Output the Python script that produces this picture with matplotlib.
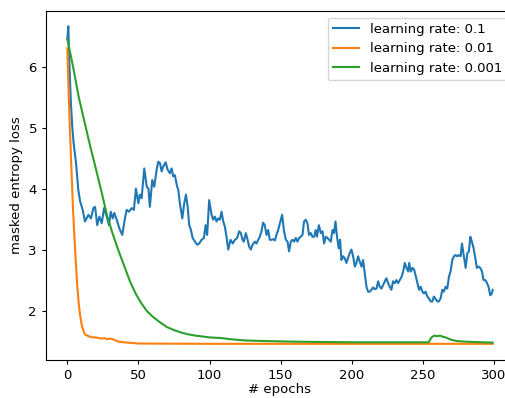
import matplotlib
matplotlib.use("Agg")
import matplotlib.pyplot as plt

# learning rate 0.1 (noisy)
blue_epochs = [0, 0.7, 1.5, 2.5, 3.5, 4.4, 6.1, 7.7, 9, 10.8, 12.4, 14.8, 16.6, 18.3, 19.5, 21, 22.5, 24.2,
               25.8, 27.7, 29.3, 30.5, 31.9, 33, 34.7, 36.5, 38.6, 40.5, 41.7, 43.3, 45.2, 46.8, 48.2, 49.9,
               51, 52.2, 54.1, 55.8, 57, 58, 59.7, 61.1, 62.8, 63.9, 65.1, 66.3, 67.4, 69.1, 70.5, 72.1,
               73.3, 74.4, 75.6, 77.2, 78, 79.1, 80.8, 82.2, 83.4, 84.6, 85.7, 86.9, 88.1, 89.7, 91.3, 92.7,
               94.4, 96, 97.2, 98.3, 99.7, 101.4, 102.5, 103.7, 104.9, 106, 107.2, 108.4, 109.6, 110.7,
               111.9, 113.1, 114.7, 116.3, 117.8, 119.4, 120.8, 122, 123.2, 124.1, 125.5, 126.7, 127.8, 129,
               130.2, 131.8, 133, 134.2, 135.3, 136.5, 137.6, 138.8, 140, 141.2, 142.3, 143.5, 144.7, 145.9,
               147, 148.2, 149.4, 151, 152.2, 153.6, 154.8, 155.9, 157.1, 158.3, 159.4, 160.6, 161.8, 162.9,
               164.1, 165.3, 166.4, 167.6, 168.8, 169.9, 171.1, 172.3, 173.5, 174.6, 175.5, 176.8, 178.2,
               179.4, 180.5, 181.7, 182.9, 184, 185.2, 186.4, 187.5, 188.5, 189.6, 190.8, 191.7, 192.7, 193.8,
               195, 196.2, 197.3, 198.5, 199.7, 200.9, 202.1, 203.2, 204.4, 205.6, 206.8, 207.9, 209.1, 210.3,
               211.4, 212.6, 213.8, 214.9, 216.1, 217.3, 218.5, 219.6, 220.8, 222, 223.2, 224.3, 225.5, 226.7,
               227.8, 229, 230.2, 231.3, 232.5, 233.7, 234.9, 236, 237.2, 238.4, 239.6, 240.3, 241.5, 242.6,
               243.8, 245, 246.1, 247.3, 248.4, 249.6, 250.7, 251.9, 253.1, 254.2, 255.4, 256.6, 257.7, 258.9,
               260.1, 261.2, 262.4, 263.6, 264.7, 265.9, 267.1, 268.3, 269.4, 270.6, 271.8, 272.9, 274.1,
               275.3, 276.5, 277.4, 278.6, 280, 281.2, 282.3, 283.3, 284.4, 285.6, 286.8, 287.9, 289.1, 290.3,
               291.5, 292.6, 293.8, 294.9, 296.1, 297.3, 298.4, 299]
blue_loss = [6.45, 6.66, 6.0, 5.4, 5.0, 4.75, 4.42, 3.98, 3.79, 3.65, 3.46, 3.57, 3.51, 3.68, 3.70, 3.40, 3.54, 3.43,
             3.68, 3.54, 3.40, 3.62, 3.51, 3.60, 3.49, 3.35, 3.24, 3.51, 3.65, 3.62, 3.68, 3.65, 4.0, 3.76,
             3.90, 3.84, 4.33, 4.03, 4.0, 3.70, 4.14, 4.03, 4.31, 4.44, 4.42, 4.28, 4.36, 4.43, 4.31, 4.25,
             4.33, 4.20, 4.22, 4.03, 3.98, 3.76, 3.51, 3.76, 3.90, 3.70, 3.40, 3.32, 3.19, 3.13, 3.08, 3.10,
             3.16, 3.19, 3.40, 3.24, 3.81, 3.57, 3.49, 3.54, 3.46, 3.51, 3.49, 3.62, 3.46, 3.38,
             3.21, 3.0, 3.16, 3.10, 3.16, 3.19, 3.30, 3.27, 3.16, 3.13, 3.27, 3.16, 3.05, 3.0,
             3.08, 3.13, 3.10, 3.16, 3.21, 3.30, 3.44, 3.40, 3.24, 3.32, 3.16, 3.16, 3.17, 3.15,
             3.24, 3.32, 3.43, 3.57, 3.32, 3.16, 3.13, 2.97, 3.13, 3.16, 3.13, 3.19, 3.13, 3.19,
             3.21, 3.24, 3.46, 3.49, 3.43, 3.24, 3.27, 3.21, 3.21, 3.32, 3.21, 3.40, 3.27,
             3.30, 3.10, 3.21, 3.19, 3.16, 3.13, 3.32, 3.27, 3.46, 3.21, 3.02, 3.16, 2.83, 2.89,
             2.86, 2.78, 2.86, 2.94, 3.0, 2.89, 2.72, 2.78, 2.89, 2.80, 2.72, 2.83, 2.61, 2.39,
             2.31, 2.31, 2.34, 2.38, 2.35, 2.36, 2.48, 2.39, 2.36, 2.42, 2.48, 2.53, 2.45, 2.39,
             2.34, 2.48, 2.45, 2.50, 2.45, 2.50, 2.55, 2.63, 2.78, 2.70, 2.64, 2.78, 2.64, 2.70,
             2.67, 2.56, 2.45, 2.34, 2.39, 2.31, 2.28, 2.31, 2.23, 2.20, 2.15, 2.15, 2.23, 2.19,
             2.15, 2.15, 2.20, 2.34, 2.31, 2.39, 2.36, 2.56, 2.64, 2.83, 2.89, 2.91, 2.89,
             2.91, 2.89, 3.10, 2.91, 2.70, 2.94, 2.97, 3.21, 3.13, 3.02, 2.86, 2.70, 2.72, 2.70,
             2.64, 2.50, 2.50, 2.46, 2.39, 2.25, 2.28, 2.34]

# learning rate 0.01
orange_epochs = [0, 1, 2, 3, 4, 5, 6, 7, 8, 9, 10, 11, 12, 13, 14, 16, 18, 20, 22, 24, 26, 28, 30, 32, 34,
                 36, 40, 45, 50, 100, 150, 200, 250, 299]
orange_loss = [6.30, 5.5, 4.85, 4.25, 3.65, 3.2, 2.78, 2.4, 2.12, 1.92, 1.78, 1.69, 1.63, 1.60, 1.59, 1.57,
               1.56, 1.56, 1.55, 1.54, 1.55, 1.53, 1.54, 1.53, 1.51, 1.49, 1.48, 1.47, 1.46, 1.455, 1.455,
               1.455, 1.455, 1.455]

# learning rate 0.001
green_epochs = [0, 4, 8, 12, 16, 20, 24, 28, 32, 36, 40, 44, 48, 52, 56, 60, 65, 70, 75, 80, 85, 90, 100,
                108, 115, 125, 140, 160, 200, 254, 256, 258, 260, 262, 264, 266, 268, 270, 274, 280, 299]
green_loss = [6.45, 6.0, 5.5, 5.1, 4.7, 4.33, 3.95, 3.55, 3.25, 2.98, 2.73, 2.48, 2.28, 2.12, 1.99, 1.9,
              1.81, 1.73, 1.68, 1.64, 1.61, 1.59, 1.56, 1.55, 1.53, 1.51, 1.50, 1.49, 1.48, 1.48, 1.56,
              1.59, 1.58, 1.59, 1.57, 1.56, 1.54, 1.52, 1.50, 1.49, 1.475]

plt.rcParams["font.size"] = 9.5

fig = plt.figure(figsize=(5.06, 3.98), dpi=100)
ax = fig.add_axes([46 / 506, 38 / 398, 468 / 506, 349 / 398])
ax.plot(blue_epochs, blue_loss, color="tab:blue", lw=1.5, label="learning rate: 0.1")
ax.plot(orange_epochs, orange_loss, color="tab:orange", lw=1.5, label="learning rate: 0.01")
ax.plot(green_epochs, green_loss, color="tab:green", lw=1.5, label="learning rate: 0.001")
ax.set_xlim(-15, 314)
ax.set_ylim(1.19, 6.91)
ax.set_xticks([0, 50, 100, 150, 200, 250, 300])
ax.set_yticks([2, 3, 4, 5, 6])
ax.tick_params(length=3)
ax.set_xlabel("# epochs", labelpad=1)
ax.set_ylabel("masked entropy loss")
ax.legend(loc="upper right")
fig.savefig("out.png", dpi=100)
